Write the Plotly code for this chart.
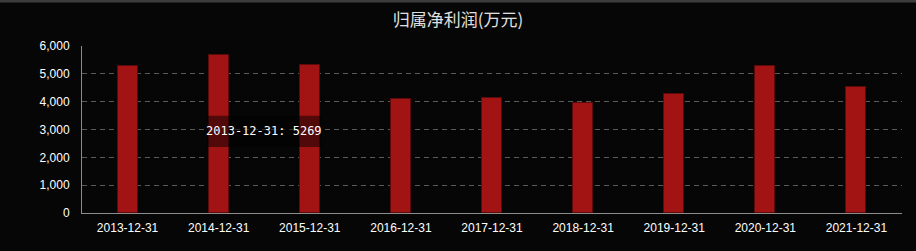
import plotly.graph_objects as go

categories = ["2013-12-31", "2014-12-31", "2015-12-31", "2016-12-31", "2017-12-31",
              "2018-12-31", "2019-12-31", "2020-12-31", "2021-12-31"]
values = [5269, 5670, 5325, 4095, 4130, 3960, 4290, 5285, 4540]
y_ticks = [0, 1000, 2000, 3000, 4000, 5000, 6000]
title_text = "归属净利润(万元)"

BG = "#060606"
W, H = 916, 251
ML, MR, MT, MB = 82, 14, 46, 38

fig = go.Figure()
fig.add_trace(go.Bar(
    x=categories, y=values, width=0.22,
    marker=dict(color="#a21313", line=dict(color="#5e0a0a", width=1)),
    hoverinfo="skip",
))

pw = W - ML - MR
ph = H - MT - MB

shapes = [
    # top border strip
    dict(type="rect", xref="paper", yref="paper",
         x0=-ML / pw, x1=1 + MR / pw, y0=1 + (MT - 2.5) / ph, y1=1 + (MT + 1) / ph,
         fillcolor="#3c3c3c", line=dict(width=0), layer="above"),
    # tooltip box
    dict(type="rect", xref="x", yref="y",
         x0=0.87, x1=2.13, y0=2370, y1=3490,
         fillcolor="rgba(0,0,0,0.5)", line=dict(width=0), layer="above"),
]

annotations = [
    dict(xref="x", yref="y", x=1.5, y=2930, showarrow=False,
         text=f"{categories[0]}: {values[0]}",
         font=dict(family="DejaVu Sans Mono", size=12, color="#ffffff"),
         xanchor="center", yanchor="middle"),
]

fig.update_layout(
    width=W, height=H,
    margin=dict(l=ML, r=MR, t=MT, b=MB, pad=0),
    paper_bgcolor=BG, plot_bgcolor=BG,
    title=dict(text=title_text, x=0.5, xref="container", xanchor="center",
               y=1 - 20 / H, yanchor="middle",
               font=dict(family="Noto Sans CJK SC", size=17, color="#e0e0e0")),
    showlegend=False,
    shapes=shapes,
    annotations=annotations,
    bargap=0,
)
fig.update_xaxes(
    type="category", showgrid=False, showline=True, linecolor="#8c8c8c", linewidth=1,
    ticks="", tickfont=dict(family="Liberation Sans", size=12, color="#ffffff"),
    zeroline=False, ticklabelstandoff=4,
)
fig.update_yaxes(
    range=[0, 6000], tickvals=y_ticks, tickformat=",", showline=True,
    linecolor="#8c8c8c", linewidth=1, showgrid=True, gridcolor="#5a5a5a",
    griddash="5px,4px", gridwidth=1, zeroline=False, ticks="",
    tickfont=dict(family="Liberation Sans", size=12, color="#ffffff"),
    ticklabelstandoff=9,
)

fig.write_html("out.html")
